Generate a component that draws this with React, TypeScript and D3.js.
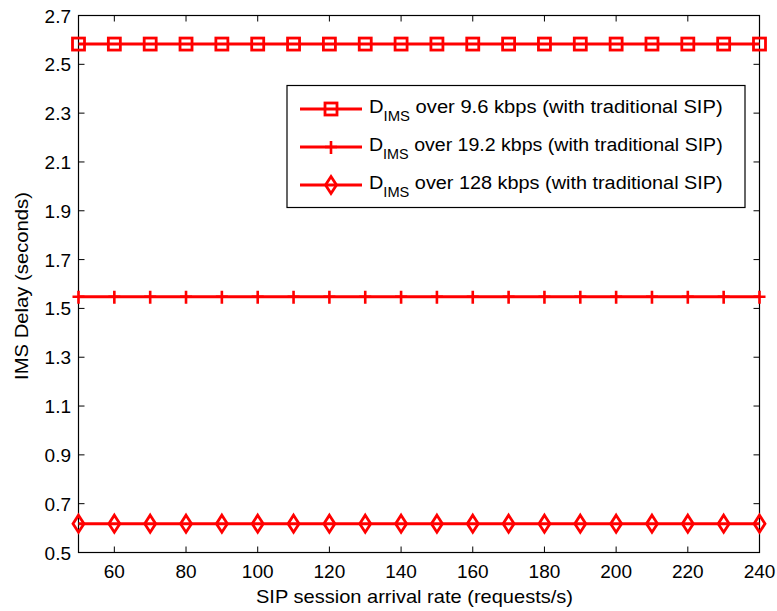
import { useEffect, useRef } from "react"
import * as d3 from "d3"

const rates = [50, 60, 70, 80, 90, 100, 110, 120, 130, 140, 150, 160, 170, 180, 190, 200, 210, 220, 230, 240]
const delay96 = [2.583, 2.583, 2.583, 2.583, 2.583, 2.583, 2.583, 2.583, 2.583, 2.583, 2.583, 2.583, 2.583, 2.583, 2.583, 2.583, 2.583, 2.583, 2.583, 2.583]
const delay192 = [1.548, 1.548, 1.548, 1.548, 1.548, 1.548, 1.548, 1.548, 1.548, 1.548, 1.548, 1.548, 1.548, 1.548, 1.548, 1.548, 1.548, 1.548, 1.548, 1.548]
const delay128 = [0.618, 0.618, 0.618, 0.618, 0.618, 0.618, 0.618, 0.618, 0.618, 0.618, 0.618, 0.618, 0.618, 0.618, 0.618, 0.618, 0.618, 0.618, 0.618, 0.618]
const xTicks = [60, 80, 100, 120, 140, 160, 180, 200, 220, 240]
const yTicks = [0.5, 0.7, 0.9, 1.1, 1.3, 1.5, 1.7, 1.9, 2.1, 2.3, 2.5, 2.7]
const legendNames = [
  " over 9.6 kbps (with traditional SIP)",
  " over 19.2 kbps (with traditional SIP)",
  " over 128 kbps (with traditional SIP)",
]

export default function App() {
  const ref = useRef<SVGSVGElement>(null)
  const width = 777, height = 611

  useEffect(() => {
    const svg = d3.select(ref.current)
    svg.selectAll("*").remove()
    const font = "Liberation Sans, Arial, sans-serif"
    const red = "#ff0000"

    const x = d3.scaleLinear().domain([50, 240]).range([78.5, 759.5])
    const y = d3.scaleLinear().domain([0.5, 2.7]).range([552.5, 15.5])

    svg.append("rect").attr("width", width).attr("height", height).attr("fill", "#fff")

    // axes box
    svg.append("rect")
      .attr("x", x(50)).attr("y", y(2.7))
      .attr("width", x(240) - x(50)).attr("height", y(0.5) - y(2.7))
      .attr("fill", "none").attr("stroke", "#000").attr("stroke-width", 1.2)

    const tl = 6
    const g = svg.append("g").attr("stroke", "#000").attr("stroke-width", 1)
    xTicks.forEach(t => {
      g.append("line").attr("x1", x(t)).attr("x2", x(t)).attr("y1", y(0.5)).attr("y2", y(0.5) - tl)
      g.append("line").attr("x1", x(t)).attr("x2", x(t)).attr("y1", y(2.7)).attr("y2", y(2.7) + tl)
    })
    yTicks.forEach(t => {
      g.append("line").attr("x1", x(50)).attr("x2", x(50) + tl).attr("y1", y(t)).attr("y2", y(t))
      g.append("line").attr("x1", x(240)).attr("x2", x(240) - tl).attr("y1", y(t)).attr("y2", y(t))
    })

    svg.append("g").selectAll("text").data(xTicks).enter().append("text")
      .attr("x", d => x(d)).attr("y", 578)
      .attr("text-anchor", "middle").attr("font-family", font).attr("font-size", 19)
      .text(d => d)
    svg.append("g").selectAll("text").data(yTicks).enter().append("text")
      .attr("x", 71).attr("y", d => y(d) + 7)
      .attr("text-anchor", "end").attr("font-family", font).attr("font-size", 19)
      .text(d => d3.format(".1f")(d))

    svg.append("text").attr("x", 414.5).attr("y", 603)
      .attr("text-anchor", "middle").attr("font-family", font).attr("font-size", 18.5)
      .attr("textLength", 317).attr("lengthAdjust", "spacingAndGlyphs")
      .text("SIP session arrival rate (requests/s)")
    svg.append("text").attr("transform", "translate(27.5,286) rotate(-90)")
      .attr("text-anchor", "middle").attr("font-family", font).attr("font-size", 18.5)
      .attr("textLength", 188).attr("lengthAdjust", "spacingAndGlyphs")
      .text("IMS Delay (seconds)")

    const line = d3.line<number>().x((_, i) => x(rates[i])).y(d => y(d))

    const drawMarker = (sel: any, kind: number, cx: number, cy: number) => {
      if (kind === 0) {
        sel.append("rect").attr("x", cx - 6).attr("y", cy - 6).attr("width", 12).attr("height", 12)
          .attr("fill", "none").attr("stroke", red).attr("stroke-width", 2.8)
      } else if (kind === 1) {
        sel.append("path").attr("d", `M${cx - 6},${cy}H${cx + 6}M${cx},${cy - 6}V${cy + 7}`)
          .attr("fill", "none").attr("stroke", red).attr("stroke-width", 2.6)
      } else {
        sel.append("path").attr("d", `M${cx},${cy - 8.5}L${cx + 5.5},${cy}L${cx},${cy + 8.5}L${cx - 5.5},${cy}Z`)
          .attr("fill", "none").attr("stroke", red).attr("stroke-width", 2.8)
      }
    }

    const series = [delay96, delay192, delay128]
    series.forEach((s, k) => {
      const sg = svg.append("g")
      sg.append("path").datum(s).attr("d", line)
        .attr("fill", "none").attr("stroke", red).attr("stroke-width", 3)
      s.forEach((v, i) => drawMarker(sg, k, x(rates[i]), y(v)))
    })

    // legend
    const lg = svg.append("g")
    lg.append("rect").attr("x", 287).attr("y", 85.5).attr("width", 458).attr("height", 122)
      .attr("fill", "#fff").attr("stroke", "#000").attr("stroke-width", 1.2)
    const rowY = [109, 147, 185]
    legendNames.forEach((name, k) => {
      const ry = rowY[k]
      lg.append("line").attr("x1", 300).attr("x2", 362).attr("y1", ry).attr("y2", ry)
        .attr("stroke", red).attr("stroke-width", 3)
      drawMarker(lg, k, 331, ry)
      const t = lg.append("text").attr("x", 369).attr("y", ry + 4.5)
        .attr("font-family", font).attr("font-size", 19)
      t.append("tspan").text("D")
      t.append("tspan").attr("font-size", 14).attr("dy", 8).text("IMS")
      t.append("tspan").attr("dy", -8).text(name)
      const len = (t.node() as SVGTextElement).getComputedTextLength()
      t.attr("transform", `translate(369,0) scale(${354 / len},1) translate(-369,0)`)
    })
  }, [])

  return (
    <div style={{ position: "absolute", left: 0, top: 0 }}>
      <svg ref={ref} width={width} height={height}></svg>
    </div>
  )
}
